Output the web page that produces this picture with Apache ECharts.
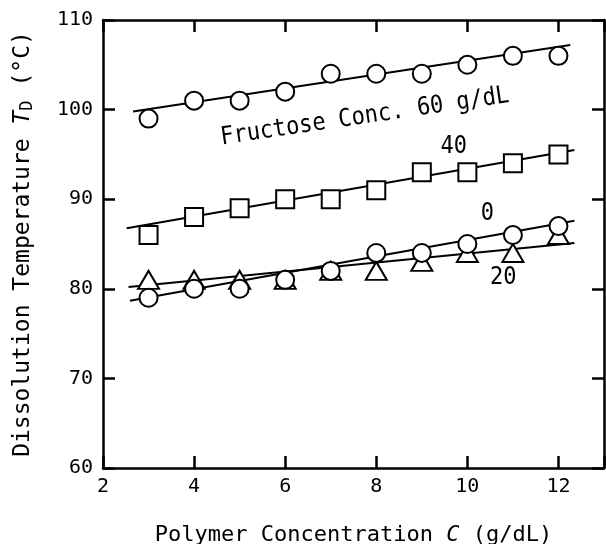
<!DOCTYPE html>
<html>
<head>
<meta charset="utf-8">
<script src="https://cdn.jsdelivr.net/npm/echarts@6/dist/echarts.min.js"></script>
<style>html,body{margin:0;padding:0;background:#fff}#c{width:606px;height:544px}</style>
</head>
<body>
<div id="c"></div>
<script>
const concC = [3, 4, 5, 6, 7, 8, 9, 10, 11, 12];
const td60 = [99, 101, 101, 102, 104, 104, 104, 105, 106, 106];
const td40 = [86, 88, 89, 90, 90, 91, 93, 93, 94, 95];
const td0  = [79, 80, 80, 81, 82, 84, 84, 85, 86, 87];
const td20 = [81, 81, 81, 81, 82, 82, 83, 84, 84, 86];
// fitted straight lines: [x, y] endpoints
const fit60 = [[2.66, 99.8], [12.26, 107.2]];
const fit40 = [[2.52, 86.75], [12.35, 95.5]];
const fit0  = [[2.59, 78.67], [12.35, 87.6]];
const fit20 = [[2.56, 80.2], [12.35, 85.1]];
const xTicks = [2, 4, 6, 8, 10, 12];
const yTicks = [60, 70, 80, 90, 100, 110];

const FONT = 'DejaVu Sans Mono';
const pts = arr => concC.map((c, i) => [c, arr[i]]);
const chart = echarts.init(document.getElementById('c'), null, {renderer: 'canvas'});

const axisCommon = {
  axisLine: {show: true, onZero: false, lineStyle: {color: '#000', width: 2.5}},
  axisTick: {show: true, inside: true, length: 12, lineStyle: {color: '#000', width: 2.5}},
  splitLine: {show: false}
};
function lineSeries(d) {
  return {type: 'line', data: d, symbol: 'none', lineStyle: {color: '#000', width: 2}, z: 2, silent: true, animation: false};
}
function markSeries(d, sym, size) {
  return {type: 'scatter', data: d, symbol: sym, symbolSize: size,
    itemStyle: {color: '#fff', borderColor: '#000', borderWidth: 2, opacity: 1}, z: 3, animation: false};
}

chart.setOption({
  animation: false,
  grid: {left: 103, right: 2, top: 20, bottom: 76, containLabel: false, outerBoundsMode: 'none'},
  xAxis: [
    Object.assign({type: 'value', min: 2, max: 13, interval: 2, position: 'bottom',
      name: 'Polymer Concentration {i|C} (g/dL)', nameLocation: 'middle', nameGap: 56,
      nameTextStyle: {fontFamily: FONT, fontSize: 22, color: '#000',
        rich: {i: {fontFamily: FONT, fontSize: 22, fontStyle: 'italic', color: '#000'}}},
      axisLabel: {fontFamily: FONT, fontSize: 20, color: '#000', margin: 9,
        formatter: v => xTicks.includes(v) ? String(v) : ''}}, axisCommon),
    Object.assign({type: 'value', min: 2, max: 13, interval: 2, position: 'top',
      axisLabel: {show: false}}, axisCommon)
  ],
  yAxis: [
    Object.assign({type: 'value', min: 60, max: 110, interval: 10, position: 'left',
      name: 'Dissolution Temperature {i|T}{sub|D} (°C)', nameLocation: 'middle', nameGap: 67,
      nameTextStyle: {fontFamily: FONT, fontSize: 23, color: '#000',
        rich: {i: {fontFamily: FONT, fontSize: 23, fontStyle: 'italic', color: '#000'},
               sub: {fontFamily: FONT, fontSize: 17, color: '#000', verticalAlign: 'bottom', padding: [8, 0, 0, 0]}}},
      axisLabel: {fontFamily: FONT, fontSize: 20, color: '#000', margin: 10,
        formatter: v => yTicks.includes(v) ? String(v) : ''}}, axisCommon),
    Object.assign({type: 'value', min: 60, max: 110, interval: 10, position: 'right',
      axisLabel: {show: false}}, axisCommon)
  ],
  series: [
    lineSeries(fit60), lineSeries(fit40), lineSeries(fit0), lineSeries(fit20),
    markSeries(pts(td20), 'triangle', [21, 18]),
    markSeries(pts(td40), 'rect', 18),
    markSeries(pts(td0), 'circle', 18),
    markSeries(pts(td60), 'circle', 18)
  ]
});

const annotations = [
  {text: 'Fructose Conc. 60 g/dL', at: [7.75, 99.2], rot: 8.4, size: 22},
  {text: '40', at: [9.70, 95.83], rot: 0, size: 22},
  {text: '0', at: [10.44, 88.35], rot: 0, size: 22},
  {text: '20', at: [10.79, 81.3], rot: 0, size: 22}
];
chart.setOption({
  graphic: annotations.map(a => {
    const p = chart.convertToPixel({xAxisIndex: 0, yAxisIndex: 0}, a.at);
    return {type: 'text', x: p[0], y: p[1], rotation: a.rot * Math.PI / 180, scaleY: 1.12, z: 10,
      style: {text: a.text, fontFamily: FONT, fontSize: a.size, fill: '#000', align: 'center', verticalAlign: 'middle'}};
  })
});
</script>
</body>
</html>
